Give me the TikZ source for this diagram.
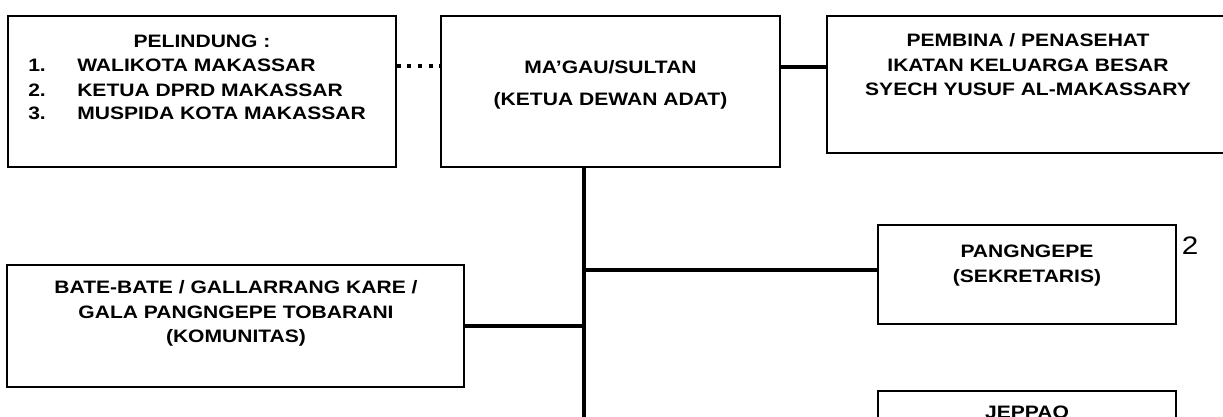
\documentclass[tikz,border=0pt]{standalone}
\usepackage{fontspec}
\setmainfont{Liberation Sans}[FakeStretch=1.17]
\usetikzlibrary{fit}
\tikzset{
  box/.style={draw, line width=1.4pt, inner sep=0pt},
  conn/.style={line width=3.3pt},
  dotline/.style={line width=3.4pt, dash pattern=on 3pt off 4.9pt},
  lbl/.style={font=\bfseries\fontsize{13.5}{18}\selectfont, inner sep=0pt, anchor=base},
  lbll/.style={lbl, anchor=base west},
  num/.style={font=\fontsize{19}{22}\selectfont, inner sep=0pt, anchor=base}
}
\begin{document}
\begin{tikzpicture}[x=0.75pt,y=-0.75pt]
\useasboundingbox (0,0) rectangle (1223,417);
\clip (0,0) rectangle (1223,417);
\fill[white] (0,0) rectangle (1223,417);
% boxes
\node[box, fit={(8,16)(396,167)}] (P) {};
\node[box, fit={(441,16)(780,167)}] (M) {};
\node[box, fit={(827,16)(1232,153)}] (PEM) {};
\node[box, fit={(878,225)(1176,324)}] (PANG) {};
\node[box, fit={(7,265)(464,387)}] (BATE) {};
\node[box, fit={(878,391)(1176,470)}] (JEP) {};
% texts
\node[lbl] (p0) at (202,47.5) {PELINDUNG :};
\node[lbll] (p1n) at (28,72) {1.};
\node[lbll] (p1) at (77,72) {WALIKOTA MAKASSAR};
\node[lbll] (p2n) at (28,97) {2.};
\node[lbll] (p2) at (77,97) {KETUA DPRD MAKASSAR};
\node[lbll] (p3n) at (28,120) {3.};
\node[lbll] (p3) at (77,120) {MUSPIDA KOTA MAKASSAR};
\node[lbl] (m1) at (610.5,73.5) {MA’GAU/SULTAN};
\node[lbl] (m2) at (610.5,106) {(KETUA DEWAN ADAT)};
\node[lbl] (e1) at (1028,46.5) {PEMBINA / PENASEHAT};
\node[lbl] (e2) at (1028,71.5) {IKATAN KELUARGA BESAR};
\node[lbl] (e3) at (1028,95.5) {SYECH YUSUF AL-MAKASSARY};
\node[lbl] (g1) at (1027,257.5) {PANGNGEPE};
\node[lbl] (g2) at (1027,282.5) {(SEKRETARIS)};
\node[num] (two) at (1190,254) {2};
\node[lbl] (b1) at (236,293.5) {BATE-BATE / GALLARRANG KARE /};
\node[lbl] (b2) at (236,318.5) {GALA PANGNGEPE TOBARANI};
\node[lbl] (b3) at (236,342.5) {(KOMUNITAS)};
\node[lbl] (j1) at (1027,418) {JEPPAO};
% connectors
\coordinate (tb) at (584,430);
\draw[dotline] ([yshift=19.1pt]P.east) -- ([yshift=19.1pt]P.east -| M.west);
\draw[conn] ([yshift=18.4pt]M.east) -- ([yshift=18.4pt]M.east -| PEM.west);
\draw[conn] (M.south -| tb) -- (tb);
\draw[conn] ([yshift=3.4pt]PANG.west) -- ([yshift=3.4pt]PANG.west -| tb);
\draw[conn] (BATE.east) -- (BATE.east -| tb);
\end{tikzpicture}
\end{document}
